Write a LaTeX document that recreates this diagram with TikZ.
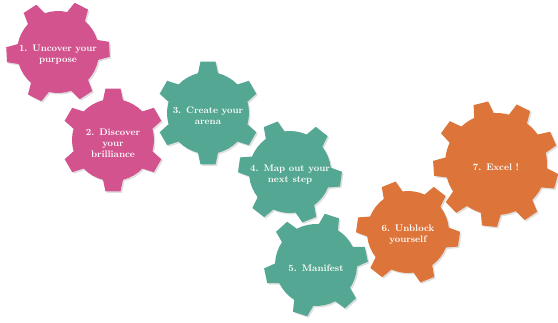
\documentclass[tikz,border=0pt]{standalone}
\usetikzlibrary{shadows}

\definecolor{cogpink}{RGB}{211,83,143}
\definecolor{cogteal}{RGB}{84,167,146}
\definecolor{cogorange}{RGB}{221,117,58}

% one cog: name, centre, teeth, inner r, outer r, turn, colour, label
\newcommand{\cog}[8]{%
  \pgfmathsetmacro{\cogstep}{360/#3}
  \pgfmathsetmacro{\cogbase}{asin(10/#4)}
  \pgfmathsetmacro{\cogtip}{asin(7.5/#5)}
  \begin{scope}[shift={#2}]
    \fill[#7, cogshadow] (#6-\cogbase:#4pt)
      \foreach \i in {1,...,#3} {
        -- ({#6+(\i-1)*\cogstep-\cogtip}:#5pt) -- ({#6+(\i-1)*\cogstep+\cogtip}:#5pt)
        -- ({#6+(\i-1)*\cogstep+\cogbase}:#4pt)
        arc[start angle={#6+(\i-1)*\cogstep+\cogbase}, delta angle={\cogstep-2*\cogbase}, radius=#4pt]
      } -- cycle;
    \node[cogtext] (#1) at (0pt,-3pt) {#8};
  \end{scope}}

\begin{document}
\begin{tikzpicture}[
    cogtext/.style={text=white, align=center, inner sep=0pt,
      font=\fontsize{9.5}{11}\selectfont\bfseries},
    cogshadow/.style={drop shadow={shadow xshift=1.5pt, shadow yshift=-1.5pt, opacity=0.25}}]
    \useasboundingbox (0pt,0pt) rectangle (558pt,-322pt);

    % pink cogs
    \cog{purpose}{(58pt,-52pt)}{6}{41}{52}{3}{cogpink}{1. Uncover your\\purpose}
    \cog{brilliance}{(113pt,-140pt)}{6}{41}{52}{30}{cogpink}{2. Discover\\your\\brilliance}

    % teal cogs
    \cog{arena}{(208pt,-113pt)}{6}{41}{52}{30}{cogteal}{3. Create your\\arena}
    \cog{step}{(290pt,-172pt)}{6}{41}{52}{-8}{cogteal}{4. Map out your\\next step}
    \cog{manifest}{(316pt,-265pt)}{6}{41}{52}{12}{cogteal}{5. Manifest}

    % orange cogs
    \cog{unblock}{(408pt,-232pt)}{6}{41}{52}{-8}{cogorange}{6. Unblock\\yourself}
    \cog{excel}{(496pt,-164pt)}{9}{51}{63}{24}{cogorange}{7. Excel !}

\end{tikzpicture}
\end{document}
